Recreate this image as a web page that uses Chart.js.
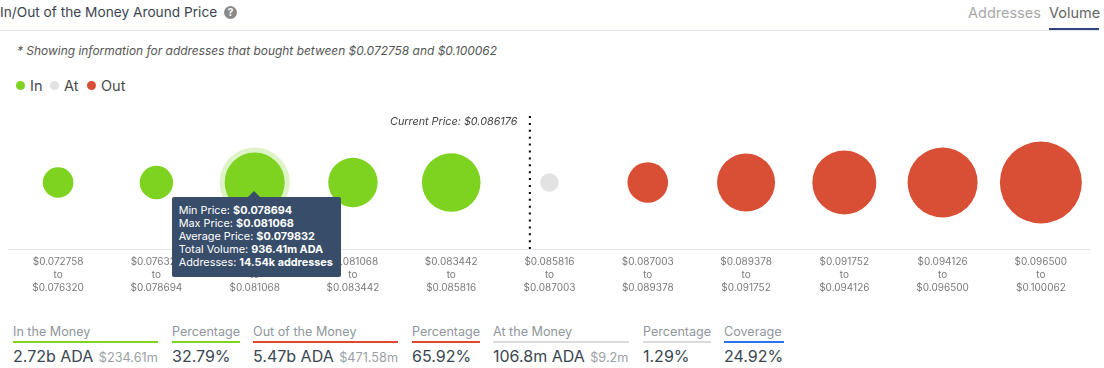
<!DOCTYPE html>
<html>
<head>
<meta charset="utf-8">
<title>In/Out of the Money Around Price</title>
<script src="https://cdn.jsdelivr.net/npm/chart.js@4"></script>
<style>
  html, body { margin: 0; padding: 0; background: #fff; }
  body { width: 1104px; height: 368px; position: relative; overflow: hidden; font-family: Inter, "Noto Sans", sans-serif; }
  .title { position: absolute; left: 0; top: 2px; font-size: 13.7px; line-height: 20px; color: #3c4450; white-space: nowrap; }
  .help { position: absolute; left: 224px; top: 6px; width: 13px; height: 13px; border-radius: 50%; background: #8a8a8a; color: #fff; font-size: 10px; font-weight: 700; line-height: 13px; text-align: center; }
  .rule { position: absolute; left: 0; right: 5px; top: 30px; height: 1px; background: #e3e8ee; }
  .tab { position: absolute; top: 3px; font-size: 14.5px; line-height: 20px; color: #a8a8a8; white-space: nowrap; }
  .tab.on { color: #666; }
  .tab-line { position: absolute; left: 1049px; top: 28px; width: 50px; height: 2px; background: #2f4480; }
  .note { position: absolute; left: 17px; top: 43px; font-size: 11.95px; line-height: 16px; font-style: italic; color: #555; white-space: nowrap; }
  .legend { position: absolute; top: 77px; font-size: 14.5px; line-height: 18px; color: #4a4a4a; white-space: nowrap; }
  .legend i { position: absolute; left: -14px; top: 4px; width: 9px; height: 9px; border-radius: 50%; }
  #wrap { position: absolute; left: -32.5px; top: 75px; width: 1163px; height: 225px; }
  .stat { position: absolute; top: 323px; }
  .stat .k { font-size: 12.6px; line-height: 17px; color: #8f969d; white-space: nowrap; }
  .stat .u { height: 2px; margin-top: 1px; }
  .stat .v { font-size: 16px; line-height: 20px; margin-top: 3px; color: #3a4652; white-space: nowrap; }
  .stat .v span { font-size: 12.7px; color: #9a9fa5; margin-left: 1px; }
  #tip { position: absolute; background: #384d69; color: #fff; border-radius: 2px; padding: 7px 8px 8px 7px; font-size: 10.85px; line-height: 13px; white-space: nowrap; z-index: 5; }
  #tip:before { content: ""; position: absolute; left: 50%; top: -6px; margin-left: -8px; border: 6px solid transparent; border-top: 0; border-bottom-color: #384d69; }
  #tip b { font-weight: 700; }
</style>
</head>
<body>
<div class="title">In/Out of the Money Around Price</div>
<div class="help">?</div>
<div class="tab" style="left:968px">Addresses</div>
<div class="tab on" style="left:1049px">Volume</div>
<div class="rule"></div>
<div class="tab-line"></div>
<div class="note">* Showing information for addresses that bought between $0.072758 and $0.100062</div>
<div class="legend" style="left:30px"><i style="background:#7ed321"></i>In</div>
<div class="legend" style="left:64px"><i style="background:#e2e2e2"></i>At</div>
<div class="legend" style="left:101px"><i style="background:#d94f36"></i>Out</div>
<div id="wrap"><canvas id="chart"></canvas></div>
<div id="tip"></div>
<div id="stats"></div>

<script>
// ==== Data ====
const rangeFrom = ["$0.072758", "$0.076320", "$0.078694", "$0.081068", "$0.083442", "$0.085816", "$0.087003", "$0.089378", "$0.091752", "$0.094126", "$0.096500"];
const rangeTo = ["$0.076320", "$0.078694", "$0.081068", "$0.083442", "$0.085816", "$0.087003", "$0.089378", "$0.091752", "$0.094126", "$0.096500", "$0.100062"];
// volume per range in millions of ADA (except the hovered one and At)
const volumes = [272, 320, 936.41, 656, 897, 106.8, 457, 880, 1054, 1243, 1660];
const states = ["in", "in", "in", "in", "in", "at", "out", "out", "out", "out", "out"];
const currentPriceLabel = "Current Price: $0.086176";
const currentPriceBin = 4.8;

const hoveredIndex = 2;
const tooltipRows = [
  ["Min Price", "$0.078694"],
  ["Max Price", "$0.081068"],
  ["Average Price", "$0.079832"],
  ["Total Volume", "936.41m ADA"],
  ["Addresses", "14.54k addresses"]
];

const statNames = ["In the Money", "Percentage", "Out of the Money", "Percentage", "At the Money", "Percentage", "Coverage"];
const statValues = ["2.72b ADA", "32.79%", "5.47b ADA", "65.92%", "106.8m ADA", "1.29%", "24.92%"];
const statUsd = ["$234.61m", "", "$471.58m", "", "$9.2m", "", ""];

// ==== Styles ====
const stateColors = { in: "#7ed321", at: "#e2e2e2", out: "#d94f36" };
const statColors = ["#7ed321", "#7ed321", "#e0492f", "#e0492f", "#dcdcdc", "#dcdcdc", "#2c74e8"];
const statLeft = [13, 172, 253, 412, 493, 643, 724];
const statWidth = [145, 68, 145, 68, 136, 68, 60];

// ==== Stats row ====
const statsEl = document.getElementById("stats");
statNames.forEach((name, i) => {
  const usd = statUsd[i] ? `<span>${statUsd[i]}</span>` : "";
  statsEl.insertAdjacentHTML(
    "beforeend",
    `<div class="stat" style="left:${statLeft[i]}px;width:${statWidth[i]}px">
      <div class="k">${name}</div>
      <div class="u" style="background:${statColors[i]}"></div>
      <div class="v">${statValues[i]} ${usd}</div>
    </div>`
  );
});

// bubble radius grows a bit faster than sqrt of the volume
const radiusFor = v => 30 * Math.pow(v / 936.41, 0.545);

// ==== HTML tooltip, for the bold values ====
const tipEl = document.getElementById("tip");
const externalTip = ({ chart, tooltip }) => {
  tipEl.innerHTML = tooltipRows.map(([k, v]) => `${k}: <b>${v}</b>`).join("<br>");
  const box = chart.canvas.getBoundingClientRect();
  const x = box.left + tooltip.caretX;
  const y = box.top + tooltip.caretY;
  tipEl.style.left = (x - tipEl.offsetWidth / 2 + 2) + "px";
  tipEl.style.top = (y + 14.5) + "px";
};

// ==== Current price caption ====
const currentPriceText = {
  id: "currentPriceText",
  afterDatasetsDraw(chart) {
    const { ctx, scales } = chart;
    ctx.save();
    ctx.font = "italic 10.8px Inter";
    ctx.fillStyle = "#444";
    ctx.textAlign = "right";
    ctx.textBaseline = "middle";
    ctx.fillText(currentPriceLabel, scales.x.getPixelForValue(currentPriceBin) - 12.5, scales.y.top + 6);
    ctx.restore();
  }
};

// ==== Chart ====
const chart = new Chart(document.getElementById("chart"), {
  type: "bubble",
  data: {
    datasets: [
      {
        label: "Volume",
        data: volumes.map((v, i) => ({ x: i, y: 0, r: radiusFor(v) })),
        backgroundColor: states.map(s => stateColors[s]),
        borderWidth: 0,
        hoverBackgroundColor: states.map(s => stateColors[s]),
        hoverBorderColor: "#def3c8",
        hoverBorderWidth: 5,
        hoverRadius: 2.5
      },
      {
        type: "line",
        label: "Current Price",
        data: [{ x: currentPriceBin, y: 1 }, { x: currentPriceBin, y: -1 }],
        borderColor: "#000",
        borderWidth: 2,
        borderDash: [2, 4.9],
        pointRadius: 0,
        fill: false
      }
    ]
  },
  options: {
    responsive: true,
    maintainAspectRatio: false,
    animation: false,
    events: [],
    plugins: {
      legend: { display: false },
      title: { display: false },
      tooltip: { enabled: false, external: externalTip }
    },
    scales: {
      x: {
        type: "linear",
        min: -0.5,
        max: 10.5,
        afterBuildTicks: axis => { axis.ticks = rangeFrom.map((_, i) => ({ value: i })); },
        grid: { display: false, drawTicks: false },
        border: { color: "#e4e6f4" },
        ticks: {
          autoSkip: false,
          maxRotation: 0,
          padding: 6,
          color: "#7a7a7a",
          font: { family: "Inter", size: 10, lineHeight: 1.3 },
          callback: value => [rangeFrom[value], "to", rangeTo[value]]
        }
      },
      y: { display: false, min: -1, max: 1 }
    }
  },
  plugins: [currentPriceText]
});

// ==== Hovered bubble like in the screenshot ====
const active = [{ datasetIndex: 0, index: hoveredIndex }];
chart.setActiveElements(active);
chart.tooltip.setActiveElements(active, { x: 0, y: 0 });
chart.update();
</script>
</body>
</html>
